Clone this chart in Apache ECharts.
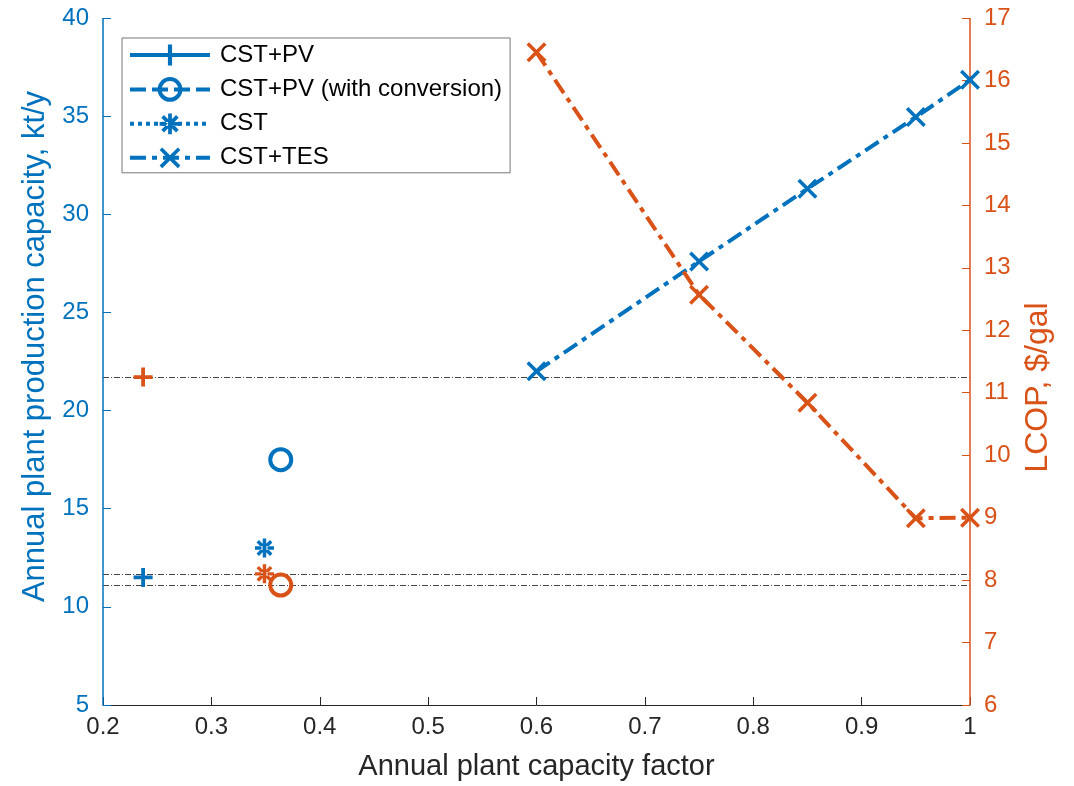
<!DOCTYPE html>
<html><head><meta charset="utf-8">
<script src="https://cdn.jsdelivr.net/npm/echarts@6/dist/echarts.min.js"></script>
<style>html,body{margin:0;padding:0;background:#fff}#c{width:1074px;height:786px}</style>
</head><body><div id="c"></div>
<script>
// ---- data ----
const xPV = [0.237];
const xConv = [0.364];
const xCST = [0.349];
const xTES = [0.6, 0.75, 0.85, 0.95, 1.0];

const capPV = [11.5];
const capConv = [17.5];
const capCST = [13.0];
const capTES = [22.0, 27.6, 31.3, 34.95, 36.85];

const lcopPV = [11.25];
const lcopConv = [7.92];
const lcopCST = [8.1];
const lcopTES = [16.45, 12.57, 10.84, 8.99, 9.0];

const names = ['CST+PV', 'CST+PV (with conversion)', 'CST', 'CST+TES'];
const xTicks = [0.2, 0.3, 0.4, 0.5, 0.6, 0.7, 0.8, 0.9, 1];
const X_MIN = 0.2, X_MAX = 1;

// ---- styles ----
const BLUE = '#0072BD', ORANGE = '#D95319', TXT = '#262626';
const FONT = 'Liberation Sans';
const PLUS = 'path://M-2,-10 L2,-10 L2,-2 L10,-2 L10,2 L2,2 L2,10 L-2,10 L-2,2 L-10,2 L-10,-2 L-2,-2 Z';
const XMARK = 'path://M-10,-7.5 L-7.5,-10 L0,-2.5 L7.5,-10 L10,-7.5 L2.5,0 L10,7.5 L7.5,10 L0,2.5 L-7.5,10 L-10,7.5 L-2.5,0 Z';
const AST = 'path://M-1.8,-10 L1.8,-10 L1.8,10 L-1.8,10 Z M-10,-1.8 L-10,1.8 L10,1.8 L10,-1.8 Z ' +
  'M-8.35,-5.8 L-5.8,-8.35 L8.35,5.8 L5.8,8.35 Z M5.8,-8.35 L8.35,-5.8 L-5.8,8.35 L-8.35,5.8 Z';
const DASHDOT = [16, 6, 5, 6];

function pairs(xs, ys) { return xs.map((x, i) => [x, ys[i]]); }

function ser(name, xs, ys, axis, color, symbol, size, lineType, extra) {
  const s = {
    name: name, type: 'line', yAxisIndex: axis, data: pairs(xs, ys),
    symbol: symbol, symbolSize: size, showSymbol: true,
    lineStyle: { color: color, width: 4, type: lineType },
    itemStyle: { color: color, borderColor: color, borderWidth: 0 },
    emphasis: { disabled: true }, animation: false, z: 5
  };
  return Object.assign(s, extra || {});
}

const circleStyle = (c) => ({ itemStyle: { color: 'rgba(0,0,0,0)', borderColor: c, borderWidth: 4 } });

const refLine = {
  silent: true, symbol: 'none', label: { show: false },
  lineStyle: { color: '#444', width: 1, type: [6, 2, 1, 2] },
  data: [{ yAxis: lcopPV[0] }, { yAxis: lcopCST[0] }, { yAxis: lcopConv[0] }]
};
const axisEdge = (xv, color) => ({
  silent: true, symbol: 'none', label: { show: false },
  lineStyle: { color: color, width: 1.5, type: 'solid' },
  data: [{ xAxis: xv, lineStyle: { color: color } }]
});

const option = {
  animation: false,
  textStyle: { fontFamily: FONT },
  grid: { left: 103, right: 104, top: 18, bottom: 81, containLabel: false },
  legend: {
    data: names, orient: 'vertical', left: 122, top: 38,
    backgroundColor: '#fff', borderColor: '#777', borderWidth: 1,
    padding: [5, 8, 3, 6], itemWidth: 80, itemHeight: 26, itemGap: 10,
    lineStyle: { width: 4 },
    itemStyle: { borderWidth: 'inherit' },
    textStyle: { fontFamily: FONT, fontSize: 24, color: '#000', padding: [0, 0, 0, 5] },
    selectedMode: false
  },
  xAxis: {
    type: 'value', min: X_MIN, max: X_MAX, interval: 0.1,
    name: 'Annual plant capacity factor', nameLocation: 'middle', nameGap: 47,
    nameTextStyle: { fontFamily: FONT, fontSize: 29, color: TXT },
    axisLine: { onZero: false, lineStyle: { color: TXT, width: 1 } },
    axisTick: { inside: true, length: 8, lineStyle: { color: TXT } },
    axisLabel: { fontFamily: FONT, fontSize: 24, color: TXT, margin: 10,
      formatter: v => { const t = xTicks.find(k => Math.abs(k - v) < 1e-6); return t === undefined ? '' : String(t); } },
    splitLine: { show: false }
  },
  yAxis: [
    {
      type: 'value', min: 5, max: 40, interval: 5, position: 'left',
      name: 'Annual plant production capacity, kt/y', nameLocation: 'middle', nameGap: 50,
      nameTextStyle: { fontFamily: FONT, fontSize: 31, color: BLUE, padding: [0, 0, 0, 30] },
      axisLine: { show: false, onZero: false },
      axisTick: { inside: true, length: 8, lineStyle: { color: BLUE } },
      axisLabel: { fontFamily: FONT, fontSize: 24, color: BLUE, margin: 14 },
      splitLine: { show: false }
    },
    {
      type: 'value', min: 6, max: 17, interval: 1, position: 'right',
      name: 'LCOP, $/gal', nameLocation: 'middle', nameGap: 52,
      nameTextStyle: { fontFamily: FONT, fontSize: 32, color: ORANGE, padding: [0, 52, 0, 0] },
      axisLine: { show: false, onZero: false },
      axisTick: { inside: true, length: 8, lineStyle: { color: ORANGE } },
      axisLabel: { fontFamily: FONT, fontSize: 24, color: ORANGE, margin: 14 },
      splitLine: { show: false }
    }
  ],
  series: [
    ser(names[0], xPV, capPV, 0, BLUE, PLUS, 19, 'solid'),
    ser(names[1], xConv, capConv, 0, BLUE, 'circle', 21, [16, 6], circleStyle(BLUE)),
    ser(names[2], xCST, capCST, 0, BLUE, AST, 19, [4, 4]),
    ser(names[3], xTES, capTES, 0, BLUE, XMARK, 20, DASHDOT),
    ser('LCOP ' + names[0], xPV, lcopPV, 1, ORANGE, PLUS, 19, 'solid', { markLine: refLine }),
    ser('LCOP ' + names[1], xConv, lcopConv, 1, ORANGE, 'circle', 21, [16, 6], circleStyle(ORANGE)),
    ser('LCOP ' + names[2], xCST, lcopCST, 1, ORANGE, AST, 19, [4, 4]),
    ser('LCOP ' + names[3], xTES, lcopTES, 1, ORANGE, XMARK, 20, DASHDOT, { markLine: axisEdge(X_MAX, ORANGE) }),
    ser('edge', xPV, capPV, 0, BLUE, 'none', 0, 'solid', { z: 8, markLine: axisEdge(X_MIN, BLUE) })
  ]
};

const chart = echarts.init(document.getElementById('c'), null, { renderer: 'canvas' });
chart.setOption(option);
</script>
</body></html>
